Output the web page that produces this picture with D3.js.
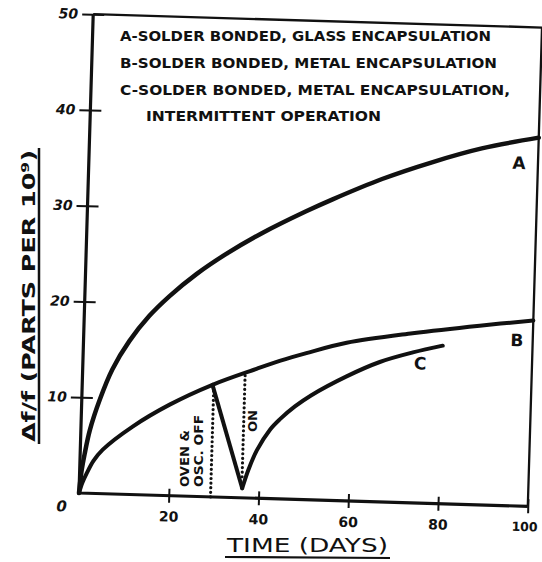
<!DOCTYPE html>
<html><head><meta charset="utf-8">
<script src="https://cdn.jsdelivr.net/npm/d3@7"></script>
<style>body{margin:0;background:#fff}</style>
</head><body><svg id="c" width="542" height="562"></svg>
<script>
// ---- data ----
const seriesA = [[0,0],[0.4,2.2],[1,4.1],[2,6.6],[4,9.8],[6.6,13.0],[10.2,16.0],[14.5,18.7],[18.8,20.8],[24.7,23.2],[31.2,25.4],[39.1,27.7],[48.7,30.1],[54.4,31.4],[65.4,33.7],[76.4,35.6],[87.4,37.2],[100,38.5]];
const seriesB = [[0,0],[0.7,1.1],[1.6,2.1],[3,3.4],[5,4.6],[11.5,7.1],[19.6,9.5],[29,11.7],[38.7,13.5],[43.8,14.4],[49.7,15.3],[58.6,16.5],[73.2,17.7],[88.1,18.7],[100,19.4]];
const seriesCdrop = [[29,11.7],[36.3,1.0]];
const seriesCrise = [[36.3,1.0],[37.6,3.0],[39.3,5.0],[42.1,7.2],[44.2,8.3],[47.5,9.7],[51,10.9],[58.8,13.0],[66.1,14.6],[73.4,15.7],[80,16.5]];
const dottedOff = [[29.3,0],[29.3,11.2]];
const dottedOn = [[36.2,2.2],[36.2,13.0]];
const xTicks = [20,40,60,80,100];
const yTicks = [10,20,30,40,50];
const legendLines = ["A-SOLDER BONDED, GLASS ENCAPSULATION","B-SOLDER BONDED, METAL ENCAPSULATION","C-SOLDER BONDED, METAL ENCAPSULATION,","INTERMITTENT OPERATION"];
const curveLabels = [{t:"A",x:95.8,y:35.8},{t:"B",x:96.5,y:17.3},{t:"C",x:75.1,y:14.6}];
const xTitle = "TIME (DAYS)";
const yTitle = "\u0394f/f (PARTS PER 10\u2079)";

// ---- drawing ----
const svg = d3.select("#c");
svg.append("rect").attr("width",542).attr("height",562).attr("fill","#fff");
const FONT = "DejaVu Sans";
const ink = "#111";

const g = svg.append("g").attr("transform","translate(79,493) rotate(1.7)");
const x = d3.scaleLinear([0,100],[0,449]);
const y = d3.scaleLinear([0,50],[0,-479]);

// frame
const frame = d3.line().x(d=>x(d[0])).y(d=>y(d[1]));
g.append("path").attr("d",frame([[0,50],[0,0],[100,0]])).attr("fill","none").attr("stroke",ink).attr("stroke-width",3.2).attr("stroke-linejoin","round");
g.append("path").attr("d",frame([[0,50],[100,50],[100,0]])).attr("fill","none").attr("stroke",ink).attr("stroke-width",2.3);

// y axis
const ya = g.append("g").call(d3.axisLeft(y).tickValues(yTicks).tickSize(12).tickPadding(3).tickFormat(d3.format("d")));
ya.select(".domain").remove();
ya.selectAll(".tick line").attr("x1",-11).attr("x2",11).attr("stroke",ink).attr("stroke-width",2);
ya.selectAll(".tick text").attr("font-family",FONT).attr("font-weight","bold").attr("font-style","italic").attr("font-size",14).attr("fill",ink);

// x axis
const xa = g.append("g").call(d3.axisBottom(x).tickValues(xTicks).tickSize(7).tickPadding(9).tickFormat(d3.format("d")));
xa.select(".domain").remove();
xa.selectAll(".tick line").attr("y1",-7).attr("y2",7).attr("stroke",ink).attr("stroke-width",2);
xa.selectAll(".tick text").attr("font-family",FONT).attr("font-weight","bold").attr("font-size",14).attr("fill",ink)
  .attr("dx",d=>d===100?"-0.25em":"0").attr("font-size",d=>d===100?12.5:14);
g.append("text").attr("x",x(0)-17).attr("y",y(0)+19).attr("text-anchor","middle")
  .attr("font-family",FONT).attr("font-weight","bold").attr("font-style","italic").attr("font-size",15).attr("fill",ink).text("0");

// curves
const smooth = d3.line().x(d=>x(d[0])).y(d=>y(d[1])).curve(d3.curveCatmullRom.alpha(0.5));
const straight = d3.line().x(d=>x(d[0])).y(d=>y(d[1]));
g.append("path").attr("d",smooth(seriesA)).attr("fill","none").attr("stroke",ink).attr("stroke-width",4.5).attr("stroke-linecap","round");
g.append("path").attr("d",smooth(seriesB)).attr("fill","none").attr("stroke",ink).attr("stroke-width",4).attr("stroke-linecap","round");
g.append("path").attr("d",straight(seriesCdrop)).attr("fill","none").attr("stroke",ink).attr("stroke-width",4).attr("stroke-linecap","round");
g.append("path").attr("d",smooth(seriesCrise)).attr("fill","none").attr("stroke",ink).attr("stroke-width",4).attr("stroke-linecap","round");

// dotted markers
[dottedOff,dottedOn].forEach(d=>{
  g.append("path").attr("d",straight(d)).attr("fill","none").attr("stroke",ink).attr("stroke-width",3.2)
   .attr("stroke-linecap","round").attr("stroke-dasharray","0 4.6");
});

// curve labels
g.selectAll(".clab").data(curveLabels).join("text").attr("class","clab")
  .attr("x",d=>x(d.x)).attr("y",d=>y(d.y)).attr("dy","0.36em").attr("text-anchor","middle")
  .attr("font-family",FONT).attr("font-weight","bold").attr("font-size",17).attr("fill",ink).text(d=>d.t);

// legend
const legPos = [{x:120,y:41,w:371},{x:120,y:68,w:377},{x:120,y:95,w:390},{x:146,y:121,w:235}];
svg.selectAll(".leg").data(legendLines).join("text").attr("class","leg")
  .attr("x",(d,i)=>legPos[i].x).attr("y",(d,i)=>legPos[i].y)
  .attr("textLength",(d,i)=>legPos[i].w).attr("lengthAdjust","spacingAndGlyphs")
  .attr("font-family",FONT).attr("font-weight","bold").attr("font-size",13.5).attr("fill",ink).text(d=>d);

// event annotations (rotated)
const ann = [{t:"OVEN &",x:189,y:487,w:57},{t:"OSC. OFF",x:203,y:487,w:72},{t:"ON",x:257,y:432,w:22}];
svg.selectAll(".ann").data(ann).join("text").attr("class","ann")
  .attr("transform",d=>`translate(${d.x},${d.y}) rotate(-90)`)
  .attr("textLength",d=>d.w).attr("lengthAdjust","spacingAndGlyphs")
  .attr("font-family",FONT).attr("font-weight","bold").attr("font-size",12).attr("fill",ink).text(d=>d.t);

// axis titles
svg.append("text").attr("x",227).attr("y",552).attr("textLength",161).attr("lengthAdjust","spacingAndGlyphs")
  .attr("font-family",FONT).attr("font-size",19).attr("fill",ink).text(xTitle);
svg.append("line").attr("x1",225).attr("x2",390).attr("y1",557).attr("y2",558).attr("stroke",ink).attr("stroke-width",2.2);
svg.append("text").attr("transform","translate(35,442) rotate(-90)").attr("textLength",292).attr("lengthAdjust","spacingAndGlyphs")
  .attr("font-family",FONT).attr("font-weight","bold").attr("font-size",18).attr("fill",ink).text(yTitle);
svg.append("line").attr("x1",39).attr("x2",39).attr("y1",444).attr("y2",148).attr("stroke",ink).attr("stroke-width",2.5);
</script></body></html>
